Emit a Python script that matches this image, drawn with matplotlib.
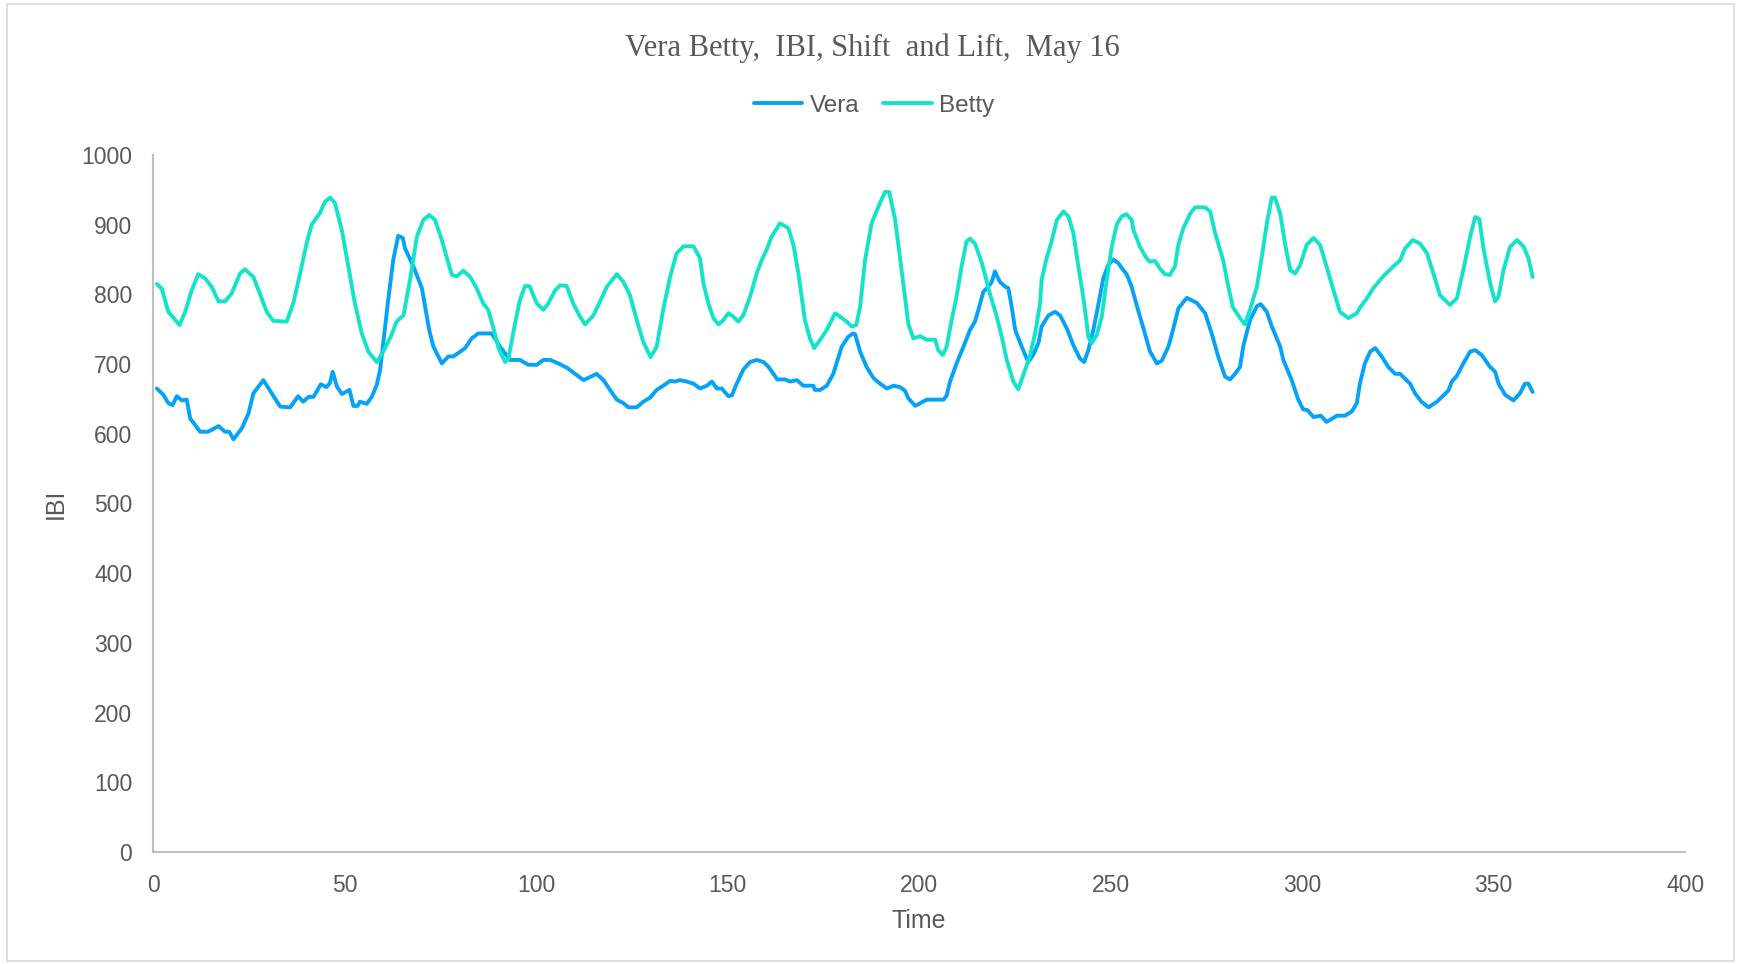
import matplotlib
matplotlib.use("Agg")
import matplotlib.pyplot as plt
from matplotlib.patches import Rectangle

# IBI readings over the session (time in seconds, IBI in ms)
vera_time = [
    1.0, 2.7, 4.0, 5.1, 6.2, 7.5, 8.8, 9.7, 12.3, 14.4, 17.1, 18.8, 19.9, 21.0,
    23.2, 24.9, 26.2, 28.8, 31.0, 33.2, 35.8, 37.9, 39.2, 40.6, 41.9, 43.8,
    45.3, 46.2, 46.9, 48.0, 49.3, 51.3, 52.3, 53.4, 54.0, 55.8, 57.1, 58.4,
    59.3, 60.1, 61.4, 62.7, 64.0, 65.2, 65.8, 68.0, 70.2, 72.1, 73.2, 75.4,
    77.1, 78.4, 80.2, 81.5, 83.2, 84.9, 88.4, 90.6, 93.2, 95.8, 98.0, 100.2,
    101.9, 103.7, 105.8, 108.0, 110.2, 112.4, 115.8, 117.6, 119.3, 121.1,
    122.8, 124.1, 126.3, 128.0, 129.8, 131.5, 133.2, 135.0, 136.3, 137.6,
    139.3, 141.1, 142.8, 144.6, 145.9, 147.2, 148.5, 150.2, 151.1, 152.4,
    154.1, 155.9, 157.6, 159.4, 160.7, 163.0, 165.0, 166.3, 168.1, 169.8,
    172.4, 172.8, 174.2, 175.9, 177.6, 179.8, 181.5, 182.7, 183.3, 184.6,
    186.3, 188.1, 189.8, 191.6, 193.3, 195.0, 196.3, 197.2, 199.0, 202.0,
    206.4, 207.2, 208.1, 209.8, 211.6, 213.3, 214.6, 215.5, 216.8, 218.1,
    219.0, 219.8, 221.1, 222.5, 223.3, 224.2, 225.1, 226.8, 228.5, 229.8,
    231.2, 232.0, 233.8, 235.5, 236.8, 238.6, 240.3, 242.0, 243.1, 244.2,
    245.5, 246.8, 248.1, 249.4, 250.7, 252.0, 253.3, 254.2, 255.5, 256.8,
    258.6, 260.3, 262.1, 263.4, 265.1, 266.4, 267.7, 269.9, 272.5, 274.7,
    276.4, 278.1, 279.9, 281.2, 282.5, 283.8, 284.7, 286.4, 288.2, 289.2,
    290.8, 292.1, 294.3, 295.1, 297.3, 299.0, 300.3, 301.4, 303.0, 304.9,
    306.4, 309.1, 311.2, 313.0, 314.3, 315.1, 316.4, 317.8, 319.1, 320.8,
    322.5, 324.3, 325.6, 328.2, 329.5, 331.2, 333.0, 335.2, 338.2, 339.1,
    340.4, 342.1, 343.9, 345.2, 346.9, 349.1, 350.4, 351.3, 353.0, 355.2,
    356.9, 358.2, 359.1, 360.2,
]
vera_ibi = [
    665, 656, 644, 641, 654, 648, 649, 622, 603, 603, 611, 603, 603, 592,
    608, 629, 658, 677, 658, 639, 638, 654, 646, 653, 653, 671,
    667, 673, 689, 668, 657, 663, 640, 640, 646, 643, 653, 670,
    692, 730, 792, 849, 884, 881, 866, 840, 809, 749, 725, 701,
    711, 711, 718, 723, 737, 744, 744, 725, 706, 706, 699, 699,
    706, 706, 701, 695, 686, 677, 686, 677, 663, 649,
    644, 638, 638, 646, 652, 663, 669, 676, 675, 677,
    675, 672, 665, 669, 675, 665, 665, 654, 655, 672,
    692, 703, 706, 703, 696, 678, 678, 675, 677, 669,
    669, 663, 663, 669, 686, 725, 739, 744, 743, 718,
    696, 680, 672, 665, 669, 667, 662, 651, 640, 649,
    649, 655, 675, 701, 725, 749, 761, 778, 804, 811,
    818, 833, 818, 811, 809, 782, 749, 725, 703, 713,
    731, 754, 770, 775, 770, 751, 727, 708, 703, 720,
    749, 785, 823, 842, 850, 845, 835, 829, 811, 785,
    751, 718, 701, 705, 725, 751, 780, 795, 788, 773,
    744, 711, 682, 678, 686, 696, 727, 763, 783, 786,
    775, 754, 725, 706, 677, 649, 635, 634, 624, 626,
    617, 626, 626, 632, 644, 672, 701, 718, 723, 711,
    696, 686, 686, 672, 658, 646, 638, 646, 662, 675,
    683, 701, 718, 720, 713, 696, 689, 672, 656, 648,
    658, 672, 672, 660,
]

betty_time = [
    1.0, 2.3, 4.0, 5.1, 6.9, 8.4, 10.1, 11.8, 13.6, 15.3, 17.1, 18.8, 20.5,
    22.7, 24.0, 26.2, 27.9, 29.7, 31.4, 34.9, 36.6, 38.4, 40.1, 41.4, 43.6,
    44.9, 46.2, 47.5, 49.3, 51.0, 52.7, 54.5, 56.2, 58.4, 60.1, 62.3, 63.6,
    65.4, 67.1, 68.9, 70.6, 72.1, 73.6, 75.4, 77.1, 78.0, 79.3, 81.0, 82.8,
    84.5, 86.2, 87.5, 88.9, 90.2, 91.9, 92.8, 94.5, 95.8, 97.1, 98.3, 100.2,
    101.9, 103.2, 105.0, 106.3, 108.0, 109.7, 111.5, 112.8, 115.0, 116.7,
    118.5, 121.1, 122.8, 124.5, 126.3, 128.0, 129.9, 131.5, 133.2, 135.0,
    136.7, 138.5, 141.1, 142.8, 143.7, 145.0, 146.3, 147.6, 148.9, 150.2,
    151.5, 152.8, 154.1, 155.9, 157.6, 158.9, 160.2, 161.5, 163.7, 165.9,
    167.2, 168.5, 170.2, 171.5, 172.6, 174.2, 175.9, 178.1, 179.4, 181.1,
    182.4, 183.6, 184.6, 185.9, 187.6, 189.4, 191.1, 192.2, 193.7, 195.0,
    196.3, 197.2, 198.5, 200.3, 202.0, 204.2, 205.0, 206.2, 207.2, 208.5,
    209.8, 211.1, 212.4, 213.3, 214.6, 216.4, 218.5, 220.3, 221.6, 222.9,
    224.6, 225.9, 227.2, 229.0, 230.3, 231.6, 232.0, 233.3, 234.6, 236.0,
    237.7, 239.0, 240.3, 241.6, 242.9, 243.6, 244.2, 245.1, 246.4, 247.7,
    249.0, 250.3, 251.6, 252.9, 254.2, 255.5, 256.0, 257.7, 259.4, 260.3,
    261.6, 262.9, 264.2, 265.5, 266.8, 267.7, 269.0, 270.8, 272.1, 274.7,
    276.0, 277.3, 279.5, 280.3, 281.9, 283.8, 285.1, 286.4, 288.2, 289.5,
    290.8, 292.1, 292.9, 294.3, 295.6, 296.9, 298.2, 299.5, 301.2, 303.0,
    304.7, 306.4, 308.2, 309.9, 312.1, 314.3, 315.1, 316.9, 318.6, 321.2,
    323.8, 325.6, 326.9, 328.9, 330.8, 332.6, 334.3, 336.0, 338.6, 340.4,
    342.1, 343.9, 345.2, 346.3, 347.3, 349.1, 350.4, 351.3, 352.6, 354.3,
    356.1, 357.8, 359.1, 360.2,
]
betty_ibi = [
    815, 808, 775, 768, 756, 775, 806, 829, 823, 811, 790, 790, 801,
    830, 836, 825, 801, 775, 762, 761, 787, 830, 873, 900, 917,
    933, 939, 931, 892, 840, 787, 744, 718, 703, 718, 742, 761,
    770, 821, 883, 907, 914, 907, 878, 845, 828, 826, 834, 825,
    809, 787, 778, 751, 723, 703, 708, 758, 792, 812, 812, 787,
    778, 787, 806, 813, 812, 787, 768, 757, 770, 790,
    811, 829, 818, 799, 763, 732, 710, 725, 778, 825,
    859, 869, 869, 852, 816, 787, 766, 757, 763, 773,
    768, 761, 770, 797, 830, 849, 864, 883, 902, 895,
    871, 830, 763, 737, 723, 735, 749, 773, 768, 761,
    754, 756, 782, 849, 902, 926, 947, 947, 909, 854,
    797, 758, 737, 740, 735, 735, 720, 713, 725, 763,
    797, 840, 876, 880, 873, 845, 801, 768, 739, 706,
    675, 664, 684, 713, 744, 787, 821, 852, 876, 907,
    919, 912, 888, 840, 795, 766, 739, 730, 742, 768,
    821, 868, 900, 912, 915, 907, 892, 868, 852, 847,
    848, 837, 829, 828, 840, 871, 895, 916, 925, 925,
    919, 888, 847, 823, 782, 766, 757, 778, 811, 854,
    902, 939, 939, 916, 871, 835, 830, 842, 871, 881,
    871, 840, 806, 775, 766, 773, 781, 794, 809, 826,
    840, 849, 866, 878, 873, 859, 830, 799, 785, 794,
    835, 883, 911, 908, 868, 816, 790, 797, 835, 868,
    878, 869, 852, 825,
]

x_ticks = [0, 50, 100, 150, 200, 250, 300, 350, 400]
y_ticks = [0, 100, 200, 300, 400, 500, 600, 700, 800, 900, 1000]

text_color = "#595959"
axis_color = "#BFBFBF"
plt.rcParams["font.family"] = ["Liberation Sans", "DejaVu Sans"]

fig = plt.figure(figsize=(17.37, 9.64), dpi=100)
ax = fig.add_axes([0.0881, 0.1162, 0.882, 0.7230])

ax.plot(vera_time, vera_ibi, color="#05A3F8", lw=2.8, label="Vera",
        solid_joinstyle="round", solid_capstyle="round")
ax.plot(betty_time, betty_ibi, color="#14E3CA", lw=2.8, label="Betty",
        solid_joinstyle="round", solid_capstyle="round")

ax.set_xlim(0, 400)
ax.set_ylim(0, 1000)
ax.set_xticks(x_ticks)
ax.set_yticks(y_ticks)
ax.tick_params(axis="both", length=0, labelsize=16.5, labelcolor=text_color)
ax.tick_params(axis="y", pad=15)
ax.tick_params(axis="x", pad=15.5)
for side in ["top", "right"]:
    ax.spines[side].set_visible(False)
for side in ["left", "bottom"]:
    ax.spines[side].set_color(axis_color)
    ax.spines[side].set_linewidth(1.5)

ax.set_xlabel("Time", fontsize=18, color=text_color, labelpad=9)
ax.set_ylabel("IBI", fontsize=18, color=text_color, labelpad=10)

fig.text(0.502, 0.950, "Vera Betty,  IBI, Shift  and Lift,  May 16",
         family="Liberation Serif", fontsize=22, color=text_color,
         ha="center", va="center")

ax.legend(loc="center", bbox_to_anchor=(0.4706, 1.0706), ncol=2, frameon=False,
          fontsize=17.5, labelcolor=text_color, handlelength=2.0,
          handletextpad=0.3, columnspacing=1.0)

# thin outer frame around the whole chart
fig.patches.append(Rectangle((0.004, 0.003), 0.994, 0.993, transform=fig.transFigure,
                             fill=False, edgecolor="#D9D9D9", lw=1.2))

fig.savefig("out.png", dpi=100)
